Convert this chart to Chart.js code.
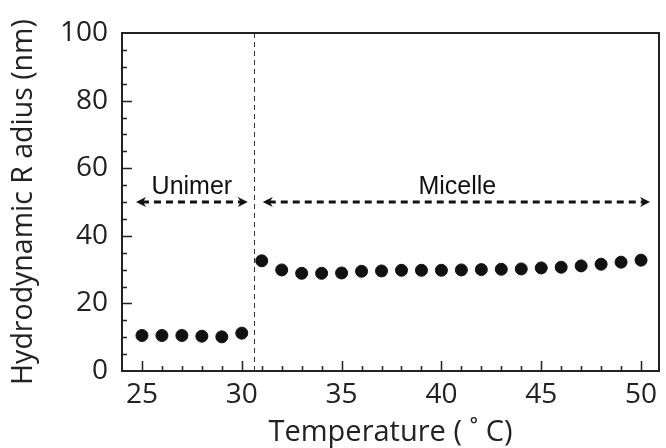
<!DOCTYPE html>
<html>
<head>
<meta charset="utf-8">
<script src="https://cdn.jsdelivr.net/npm/chart.js@4.4.1/dist/chart.umd.min.js"></script>
<style>
  html, body { margin: 0; padding: 0; background: #fff; }
  #wrap { width: 666px; height: 448px; position: relative; }
</style>
</head>
<body>
<div id="wrap"><canvas id="chart"></canvas></div>
<script>
// Data
const temperatures = [25, 26, 27, 28, 29, 30, 31, 32, 33, 34, 35, 36, 37, 38, 39, 40, 41, 42, 43, 44, 45, 46, 47, 48, 49, 50];
const radii = [10.5, 10.5, 10.5, 10.3, 10.1, 11.2, 32.6, 29.9, 28.9, 28.9, 29.0, 29.5, 29.6, 29.8, 29.8, 29.8, 29.9, 30.0, 30.1, 30.2, 30.5, 30.7, 31.1, 31.6, 32.2, 32.8];
const xTicks = [25, 30, 35, 40, 45, 50];
const yTicks = [0, 20, 40, 60, 80, 100];

// Annotations: transition line and phase arrows
const transitionTemp = 30.6;
const phaseNames = ['Unimer', 'Micelle'];
const phaseStart = [24.7, 31.05];
const phaseEnd = [30.3, 50.45];
const phaseLabelX = [27.5, 40.8];
const phaseArrowY = 50;

const FONT = '"Open Sans", sans-serif';

// Frame, inward ticks, transition line and arrows
const decorPlugin = {
    id: 'decor',
    afterDatasetsDraw(chart) {
        const ctx = chart.ctx;
        const x = chart.scales.x;
        const y = chart.scales.y;
        const area = chart.chartArea;
        ctx.save();

        // transition line
        ctx.strokeStyle = '#333';
        ctx.lineWidth = 1;
        ctx.setLineDash([5, 4]);
        const tx = Math.round(x.getPixelForValue(transitionTemp)) + 0.5;
        ctx.beginPath();
        ctx.moveTo(tx, area.top);
        ctx.lineTo(tx, area.bottom);
        ctx.stroke();

        // phase arrows
        const ay = y.getPixelForValue(phaseArrowY);
        for (let i = 0; i < phaseNames.length; i++) {
            const x0 = x.getPixelForValue(phaseStart[i]);
            const x1 = x.getPixelForValue(phaseEnd[i]);
            ctx.strokeStyle = '#111';
            ctx.lineWidth = 3;
            ctx.setLineDash([7, 5]);
            ctx.beginPath();
            ctx.moveTo(x0 + 6, ay);
            ctx.lineTo(x1 - 6, ay);
            ctx.stroke();
            ctx.setLineDash([]);
            ctx.fillStyle = '#111';
            ctx.beginPath();
            ctx.moveTo(x0, ay);
            ctx.lineTo(x0 + 10, ay - 5);
            ctx.lineTo(x0 + 7, ay);
            ctx.lineTo(x0 + 10, ay + 5);
            ctx.closePath();
            ctx.fill();
            ctx.beginPath();
            ctx.moveTo(x1, ay);
            ctx.lineTo(x1 - 10, ay - 5);
            ctx.lineTo(x1 - 7, ay);
            ctx.lineTo(x1 - 10, ay + 5);
            ctx.closePath();
            ctx.fill();

            ctx.font = '25px "Liberation Sans", Arial, sans-serif';
            ctx.textAlign = 'center';
            ctx.textBaseline = 'alphabetic';
            ctx.fillText(phaseNames[i], x.getPixelForValue(phaseLabelX[i]), ay - 8);
        }

        // inward ticks
        ctx.setLineDash([]);
        ctx.strokeStyle = '#222';
        ctx.lineWidth = 1.5;
        ctx.beginPath();
        for (let v = 25; v <= 50; v++) {
            const px = Math.round(x.getPixelForValue(v)) + 0.5;
            const len = v % 5 === 0 ? 10 : 5;
            ctx.moveTo(px, area.bottom);
            ctx.lineTo(px, area.bottom - len);
        }
        for (let v = 5; v < 100; v += 5) {
            const py = Math.round(y.getPixelForValue(v)) + 0.5;
            const len = v % 20 === 0 ? 10 : 5;
            ctx.moveTo(area.left, py);
            ctx.lineTo(area.left + len, py);
        }
        ctx.stroke();

        // frame
        ctx.strokeStyle = '#222';
        ctx.lineWidth = 2;
        ctx.strokeRect(area.left, area.top, area.right - area.left, area.bottom - area.top);
        ctx.restore();
    }
};

new Chart(document.getElementById('chart'), {
    type: 'scatter',
    data: {
        datasets: [{
            data: temperatures.map((t, i) => ({ x: t, y: radii[i] })),
            backgroundColor: '#111',
            borderColor: '#111',
            pointRadius: 6,
            pointHoverRadius: 6
        }]
    },
    options: {
        responsive: true,
        maintainAspectRatio: false,
        animation: false,
        layout: { padding: { top: 33, right: 1, left: 0, bottom: 0 } },
        plugins: { legend: { display: false }, tooltip: { enabled: false } },
        scales: {
            x: {
                type: 'linear',
                min: 24,
                max: 50.9,
                afterBuildTicks: s => { s.ticks = xTicks.map(v => ({ value: v })); },
                afterFit: s => { s.height = 77; },
                grid: { display: false, drawTicks: false },
                border: { display: false },
                ticks: { color: '#222', padding: 7, font: { family: FONT, size: 28 }, maxRotation: 0, autoSkip: false },
                title: {
                    display: true,
                    text: 'Temperature ( ˚ C)',
                    color: '#222',
                    font: { family: FONT, size: 29, lineHeight: 1 },
                    padding: { top: 0, bottom: 1 }
                }
            },
            y: {
                min: 0,
                max: 100,
                afterBuildTicks: s => { s.ticks = yTicks.map(v => ({ value: v })); },
                afterFit: s => { s.width = 122; },
                grid: { display: false, drawTicks: false },
                border: { display: false },
                ticks: { color: '#222', padding: 14, font: { family: FONT, size: 28 } },
                title: {
                    display: true,
                    text: 'Hydrodynamic R adius (nm)',
                    color: '#222',
                    font: { family: FONT, size: 28.5, lineHeight: 1 },
                    padding: { top: 10, bottom: 0 }
                }
            }
        }
    },
    plugins: [decorPlugin]
});
</script>
</body>
</html>
